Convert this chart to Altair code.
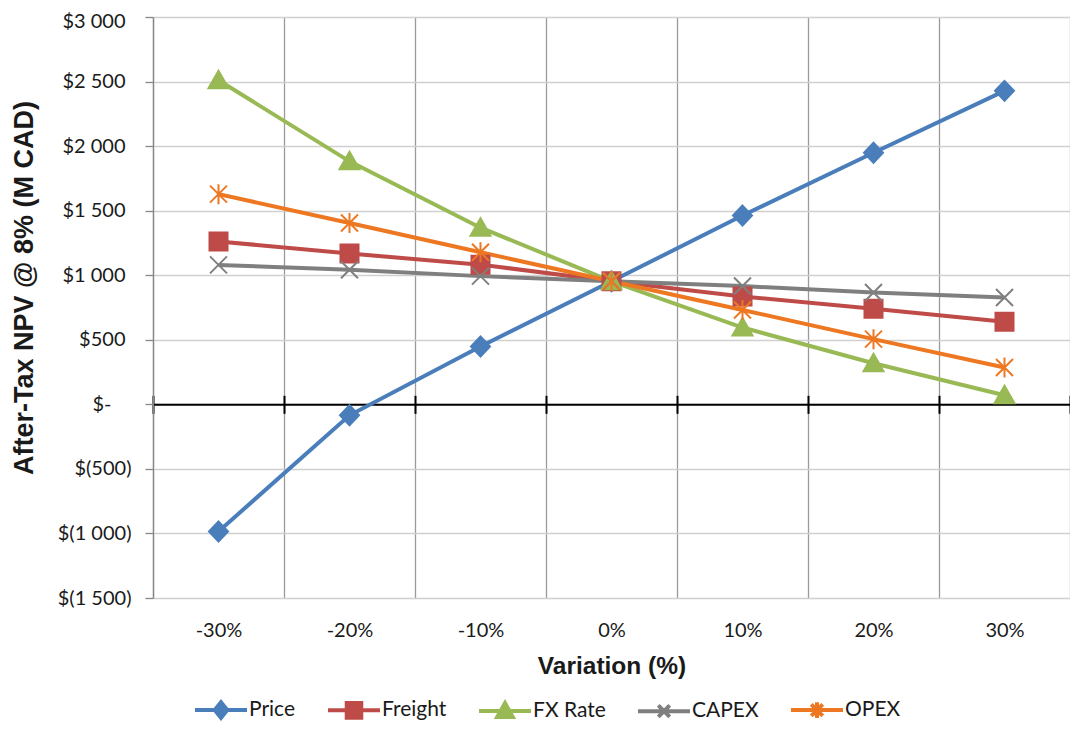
import altair as alt
import pandas as pd

# ---- data ----
variation = ["-30%", "-20%", "-10%", "0%", "10%", "20%", "30%"]
series_names = ["Price", "Freight", "FX Rate", "CAPEX", "OPEX"]
price = [-985, -85, 448, 953, 1462, 1949, 2428]
freight = [1262, 1168, 1082, 953, 836, 740, 640]
fx_rate = [2510, 1882, 1368, 953, 595, 318, 70]
capex = [1080, 1043, 993, 953, 916, 866, 828]
opex = [1628, 1405, 1178, 953, 731, 505, 285]
y_ticks = [-1500, -1000, -500, 0, 500, 1000, 1500, 2000, 2500, 3000]

# ---- styles ----
series_colors = ["#4A7EBB", "#BE4B48", "#98B954", "#7F7F7F", "#EE7722"]
marker_paths = [
    "M0,-1L0.95,0L0,1L-0.95,0Z",
    "M-0.9,-0.9L0.9,-0.9L0.9,0.9L-0.9,0.9Z",
    "M0,-0.95L1,0.8L-1,0.8Z",
    "M-0.85,-0.85L0.85,0.85M-0.85,0.85L0.85,-0.85",
    "M-0.85,-0.85L0.85,0.85M-0.85,0.85L0.85,-0.85M0,-1L0,1",
]
legend_paths = [
    "M-1,0L1,0M0,-0.3L0.24,0L0,0.3L-0.24,0Z",
    "M-1,0L1,0M-0.28,-0.28L0.28,-0.28L0.28,0.28L-0.28,0.28Z",
    "M-1,0L1,0M0,-0.3L0.3,0.24L-0.3,0.24Z",
    "M-1,0L1,0M-0.22,-0.22L0.22,0.22M-0.22,0.22L0.22,-0.22",
    "M-1,0L1,0M-0.22,-0.22L0.22,0.22M-0.22,0.22L0.22,-0.22M0,-0.3L0,0.3",
]

rows = []
for name, vals in zip(series_names, [price, freight, fx_rate, capex, opex]):
    for i, (v, val) in enumerate(zip(variation, vals)):
        rows.append({"Variation": v, "Series": name, "NPV": val, "idx": i})
df = pd.DataFrame(rows)

W, H = 917, 581
zero_from_top = H * 3000 / 4500

LABEL_FONT = "Lato"
TITLE_FONT = "Liberation Sans"
TXT = "#1a1a1a"

xscale = alt.Scale(type="band", domain=variation, paddingInner=0, paddingOuter=0)
yscale = alt.Scale(domain=[-1500, 3000], nice=False, zero=False)
colscale = alt.Scale(domain=series_names, range=series_colors)

y_label_expr = (
    "datum.value == 0 ? '$-' : "
    "(datum.value < 0 ? '$(' + replace(format(-datum.value, ','), ',', '\u00a0') + ')' "
    ": '$' + replace(format(datum.value, ','), ',', '\u00a0'))"
)

yenc = alt.Y(
    "NPV:Q",
    scale=yscale,
    axis=alt.Axis(
        values=y_ticks,
        labelExpr=y_label_expr,
        title="After-Tax NPV @ 8% (M CAD)",
        titleFont=TITLE_FONT,
        titleFontWeight="bold",
        titleFontSize=27,
        titleColor=TXT,
        titleAngle=270,
        titleX=-121,
        titleY=270.5,
        titleAlign="center",
        titleBaseline="alphabetic",
        labelFont=LABEL_FONT,
        labelFontSize=20,
        labelColor=TXT,
        labelPadding={
            "condition": [
                {"test": "datum.value == 0", "value": 34},
                {"test": "datum.value < 0", "value": 14},
            ],
            "value": 20,
        },
        labelOffset={
            "condition": {"test": "datum.value == 3000", "value": 4},
            "value": 0,
        },
        tickSize=8,
        tickColor="#868686",
        tickWidth=1.3,
        domainColor="#868686",
        domainWidth=1.3,
        grid=True,
        gridColor="#d0d0d0",
        gridWidth=1.3,
    ),
)

axis_labels = alt.Axis(
    orient="bottom",
    title="Variation (%)",
    titleFont=TITLE_FONT,
    titleFontWeight="bold",
    titleFontSize=24.5,
    titleColor=TXT,
    titleY=75,
    titleBaseline="alphabetic",
    labelFont=LABEL_FONT,
    labelFontSize=20,
    labelColor=TXT,
    labelAngle=0,
    labelPadding=22,
    ticks=False,
    tickSize=0,
    domain=False,
    grid=True,
    tickBand="extent",
    gridColor="#9a9a9a",
    gridWidth=1.3,
)
axis_zero_down = alt.Axis(
    orient="bottom",
    offset=-(H - zero_from_top),
    title=None,
    labels=False,
    grid=False,
    domain=True,
    domainColor="black",
    domainWidth=2,
    ticks=True,
    tickColor="black",
    tickWidth=2,
    tickSize=9,
    tickBand="extent",
)
axis_zero_up = alt.Axis(
    orient="top",
    offset=-zero_from_top,
    title=None,
    labels=False,
    grid=False,
    domain=False,
    ticks=True,
    tickColor="black",
    tickWidth=2,
    tickSize=9,
    tickBand="extent",
)

leg = alt.Legend(
    title=None,
    orient="none",
    legendX=40,
    legendY=665,
    direction="horizontal",
    symbolSize=2704,
    symbolStrokeWidth=4,
    labelFont=LABEL_FONT,
    labelFontSize=21,
    labelColor=TXT,
    labelOffset=0,
    columnPadding=24,
    padding=0,
)

lines = alt.Chart(df).mark_line(strokeWidth=4).encode(
    x=alt.X("Variation:O", scale=xscale, axis=axis_labels, bandPosition=0.5),
    y=yenc,
    color=alt.Color("Series:N", scale=colscale, legend=None),
    detail="Series:N",
    order=alt.Order("idx:Q"),
)

points = alt.Chart(df).mark_point(filled=True, opacity=1, size=400, strokeWidth=2).encode(
    x=alt.X("Variation:O", scale=xscale, axis=axis_zero_down, bandPosition=0.5),
    y=yenc,
    color=alt.Color("Series:N", scale=colscale, legend=None),
    stroke=alt.Stroke("Series:N", scale=colscale, legend=None),
    shape=alt.Shape("Series:N", scale=alt.Scale(domain=series_names, range=marker_paths), legend=None),
)

legend_layer = (
    alt.Chart(df)
    .transform_filter("datum.NPV > 100000")
    .mark_point(filled=True, opacity=1, size=400, strokeWidth=4)
    .encode(
        x=alt.X("Variation:O", scale=xscale, axis=axis_zero_up, bandPosition=0.5),
        y=yenc,
        color=alt.Color("Series:N", scale=colscale, legend=leg),
        stroke=alt.Stroke("Series:N", scale=colscale, legend=leg),
        shape=alt.Shape("Series:N", scale=alt.Scale(domain=series_names, range=legend_paths), legend=leg),
    )
)

chart = (
    alt.layer(lines, points, legend_layer)
    .resolve_scale(color="independent", stroke="independent", shape="independent")
    .resolve_axis(x="independent")
    .properties(
        width=W,
        height=H,
        autosize=alt.AutoSizeParams(type="none"),
        padding={"left": 145, "top": 9, "right": 0, "bottom": 123},
        background="white",
    )
    .configure_view(stroke=None)
)

chart.save("out.html", embed_options={"renderer": "svg", "actions": False})
